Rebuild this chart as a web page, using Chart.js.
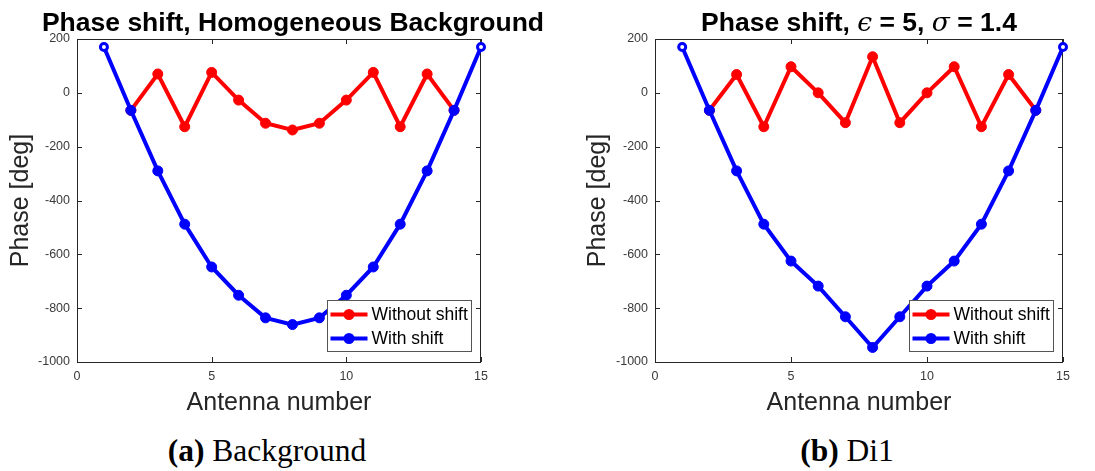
<!DOCTYPE html>
<html>
<head>
<meta charset="utf-8">
<script src="https://cdn.jsdelivr.net/npm/chart.js@4.4.0/dist/chart.umd.min.js"></script>
<style>
  body { margin: 0; background: #fff; width: 1095px; height: 471px; position: relative; overflow: hidden; }
  canvas { position: absolute; top: 0; }
  .title { position: absolute; top: 9px; width: 600px; text-align: center; white-space: nowrap;
           font: bold 26.5px "Liberation Sans", Arial, sans-serif; line-height: 26px; color: #000; }
  .title i { font-family: "DejaVu Serif", "Liberation Serif", serif; font-weight: normal; }
  .cap { position: absolute; top: 435px; width: 400px; text-align: center; white-space: nowrap;
         font: 31.5px "Liberation Serif", "DejaVu Serif", serif; line-height: 31px; color: #000; }
</style>
</head>
<body>
<canvas id="bg" width="547" height="420" style="left:0"></canvas>
<canvas id="di1" width="547" height="420" style="left:548px"></canvas>
<div class="title" style="left:-7px">Phase shift, Homogeneous Background</div>
<div class="title" style="left:559px">Phase shift, <i>ϵ</i> = 5, <i>σ</i> = 1.4</div>
<div class="cap" style="left:67px"><b>(a)</b> Background</div>
<div class="cap" style="left:647px"><b>(b)</b> Di1</div>
<script>
// antenna index along the array
const antenna = [1, 2, 3, 4, 5, 6, 7, 8, 9, 10, 11, 12, 13, 14, 15];

// (a) homogeneous background
const bgWithout = [null, -65, 70, -126, 76, -27, -113, -138, -113, -27, 76, -126, 70, -65, null];
const bgWith    = [170, -65, -290, -488, -647, -752, -836, -861, -836, -752, -647, -488, -290, -65, 170];

// (b) Di1, eps = 5, sigma = 1.4
const di1Without = [null, -65, 68, -126, 97, 0, -111, 134, -111, 0, 97, -126, 68, -65, null];
const di1With    = [170, -65, -290, -488, -625, -718, -832, -946, -832, -718, -625, -488, -290, -65, 170];

const xTicks = [0, 5, 10, 15];
const yTicks = [200, 0, -200, -400, -600, -800, -1000];
const seriesNames = ['Without shift', 'With shift'];
const seriesColors = ['#ff0000', '#0000ff'];

const AXIS = '#262626';
const SANS = '"Liberation Sans", Arial, sans-serif';

// matlab-ish box with inward ticks + legend in the lower right corner
const framePlugin = {
  id: 'frame',
  beforeDatasetsDraw(chart) {
    const { ctx, chartArea: a, scales: { x, y } } = chart;
    ctx.save();
    ctx.strokeStyle = AXIS;
    ctx.lineWidth = 1;
    ctx.strokeRect(Math.round(a.left) + 0.5, Math.round(a.top) + 0.5,
                   Math.round(a.right - a.left) - 1, Math.round(a.bottom - a.top));
    ctx.beginPath();
    xTicks.forEach(v => {
      const px = Math.round(x.getPixelForValue(v)) + 0.5;
      ctx.moveTo(px, a.bottom); ctx.lineTo(px, a.bottom - 5);
      ctx.moveTo(px, a.top); ctx.lineTo(px, a.top + 5);
    });
    yTicks.forEach(v => {
      const py = Math.round(y.getPixelForValue(v)) + 0.5;
      ctx.moveTo(a.left, py); ctx.lineTo(a.left + 5, py);
      ctx.moveTo(a.right, py); ctx.lineTo(a.right - 5, py);
    });
    ctx.stroke();
    ctx.restore();
  },
  afterDraw(chart) {
    const { ctx, chartArea: a } = chart;
    const w = 144, h = 51;
    const bx = Math.round(a.right - 10 - w) + 0.5, by = Math.round(a.bottom - 11 - h) + 0.5;
    ctx.save();
    ctx.fillStyle = '#fff';
    ctx.fillRect(bx, by, w, h);
    ctx.strokeStyle = '#555';
    ctx.lineWidth = 1;
    ctx.strokeRect(bx, by, w, h);
    ctx.font = '17.5px ' + SANS;
    ctx.textBaseline = 'middle';
    seriesNames.forEach((name, i) => {
      const ly = by + 14 + i * 24;
      ctx.strokeStyle = seriesColors[i];
      ctx.lineWidth = 4;
      ctx.beginPath(); ctx.moveTo(bx + 3, ly); ctx.lineTo(bx + 40, ly); ctx.stroke();
      ctx.fillStyle = seriesColors[i];
      ctx.beginPath(); ctx.arc(bx + 21.5, ly, 5.5, 0, Math.PI * 2); ctx.fill();
      ctx.fillStyle = '#000';
      ctx.fillText(name, bx + 44, ly + 1);
    });
    ctx.restore();
  }
};

function endRing(values, color) {
  return values.map((v, i) => (i === 0 || i === values.length - 1) ? '#fff' : color);
}

function makePanel(id, without, withShift, yLabelPad, padRight, yWidth) {
  new Chart(document.getElementById(id), {
    type: 'line',
    data: {
      labels: antenna,
      datasets: [
        {
          label: seriesNames[0],
          data: antenna.map((a, i) => ({ x: a, y: without[i] })),
          borderColor: seriesColors[0],
          backgroundColor: seriesColors[0],
          borderWidth: 4,
          pointRadius: 5,
          pointBorderWidth: 1,
          pointBackgroundColor: seriesColors[0],
          tension: 0,
          order: 1,
          clip: false
        },
        {
          label: seriesNames[1],
          data: antenna.map((a, i) => ({ x: a, y: withShift[i] })),
          borderColor: seriesColors[1],
          backgroundColor: seriesColors[1],
          borderWidth: 4,
          pointRadius: withShift.map((v, i) => (i === 0 || i === withShift.length - 1) ? 3.5 : 5),
          pointBorderWidth: withShift.map((v, i) => (i === 0 || i === withShift.length - 1) ? 3 : 1),
          pointBackgroundColor: endRing(withShift, seriesColors[1]),
          tension: 0,
          order: 0,
          clip: false
        }
      ]
    },
    options: {
      responsive: false,
      animation: false,
      devicePixelRatio: 1,
      layout: { padding: { left: 0, right: padRight, top: 39, bottom: 0 } },
      plugins: { legend: { display: false }, tooltip: { enabled: false }, title: { display: false } },
      scales: {
        x: {
          type: 'linear', min: 0, max: 15,
          afterBuildTicks: s => { s.ticks = xTicks.map(v => ({ value: v })); },
          afterFit: s => { s.height = 58; },
          grid: { display: false, drawTicks: false },
          border: { display: false },
          ticks: { color: '#3a3a3a', font: { family: SANS, size: 12.5 }, padding: 7, maxRotation: 0,
                   callback: v => String(v) },
          title: { display: true, text: 'Antenna number', color: AXIS,
                   font: { family: SANS, size: 25 }, padding: { top: 0, bottom: 2 } }
        },
        y: {
          min: -1000, max: 200,
          afterBuildTicks: s => { s.ticks = yTicks.map(v => ({ value: v })); },
          afterFit: s => { s.width = yWidth; },
          grid: { display: false, drawTicks: false },
          border: { display: false },
          ticks: { color: '#3a3a3a', font: { family: SANS, size: 12.5 }, padding: 7,
                   callback: v => String(v) },
          title: { display: true, text: 'Phase [deg]', color: AXIS,
                   font: { family: SANS, size: 25 }, padding: { top: yLabelPad, bottom: 0 } }
        }
      }
    },
    plugins: [framePlugin]
  });
}

makePanel('bg', bgWithout, bgWith, 6, 66, 77);
makePanel('di1', di1Without, di1With, 35, 32, 107);
</script>
</body>
</html>
